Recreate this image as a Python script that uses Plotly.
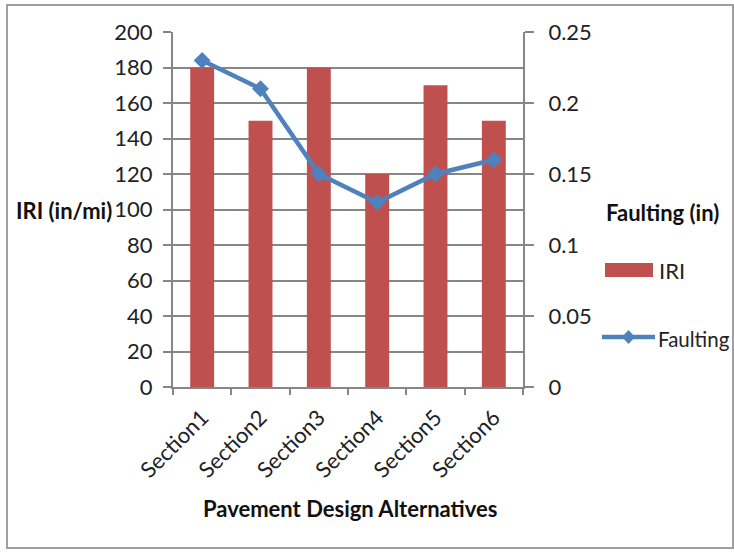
import plotly.graph_objects as go

categories = ["Section1", "Section2", "Section3", "Section4", "Section5", "Section6"]
iri = [180, 150, 180, 120, 170, 150]
faulting = [0.23, 0.21, 0.15, 0.13, 0.15, 0.16]
left_ticks = list(range(0, 201, 20))
right_ticks = [0, 0.05, 0.1, 0.15, 0.2, 0.25]
right_tick_labels = ["0", "0.05", "0.1", "0.15", "0.2", "0.25"]

RED = "#C0504D"
BLUE = "#4F81BD"
GRID = "#868686"
FONT = "Lato"

W, H = 734, 553
L, R, T, B = 173, 523, 32, 387

def px(x):
    return (x - L) / (R - L)

def py(y):
    return (B - y) / (B - T)

fig = go.Figure()
fig.add_trace(go.Bar(x=categories, y=iri, name="IRI", marker_color=RED,
                     marker_line_width=0, yaxis="y"))
fig.add_trace(go.Scatter(x=categories, y=faulting, name="Faulting", yaxis="y2",
                         mode="lines+markers",
                         line=dict(color=BLUE, width=4.5),
                         marker=dict(symbol="diamond", size=13, color=BLUE)))

fig.update_layout(
    width=W, height=H,
    margin=dict(l=L, r=W - R, t=T, b=H - B, pad=0),
    paper_bgcolor="white", plot_bgcolor="white",
    showlegend=False,
    bargap=0.59,
    font=dict(family=FONT, size=22, color="#222222"),
    xaxis=dict(type="category", showgrid=False, showline=True, linecolor=GRID,
               linewidth=2, ticks="outside", ticklen=6, tickcolor=GRID, tickwidth=2,
               tickson="boundaries", tickangle=-45, tickfont=dict(size=22),
               ticklabelstandoff=7),
    yaxis=dict(range=[0, 200], tickvals=left_ticks, showgrid=True, gridcolor=GRID,
               gridwidth=2, showline=True, linecolor=GRID, linewidth=2,
               ticks="outside", ticklen=8, tickcolor=GRID, tickwidth=2,
               zeroline=False, tickfont=dict(size=22), ticklabelstandoff=6),
    yaxis2=dict(range=[0, 0.25], tickvals=right_ticks, ticktext=right_tick_labels,
                overlaying="y", side="right", showgrid=False, showline=True,
                linecolor=GRID, linewidth=2, ticks="outside", ticklen=9,
                tickcolor=GRID, tickwidth=2, zeroline=False,
                tickfont=dict(size=22), ticklabelstandoff=10),
)

shapes = [
    # outer chart border
    dict(type="rect", xref="paper", yref="paper",
         x0=px(7), x1=px(733), y0=py(548), y1=py(5),
         line=dict(color="#A0A0A0", width=2), fillcolor="rgba(0,0,0,0)", layer="below"),
    # legend swatches
    dict(type="rect", xref="paper", yref="paper",
         x0=px(605), x1=px(653), y0=py(277), y1=py(263),
         fillcolor=RED, line=dict(width=0)),
    dict(type="line", xref="paper", yref="paper",
         x0=px(602), x1=px(655), y0=py(337), y1=py(337),
         line=dict(color=BLUE, width=4.5)),
    dict(type="path", xref="paper", yref="paper",
         path="M {a},{b} L {c},{d} L {a},{e} L {f},{d} Z".format(
             a=px(628.5), b=py(330), c=px(635), d=py(337), e=py(344), f=px(622)),
         fillcolor=BLUE, line=dict(width=0)),
]

annotations = [
    dict(text="<b>IRI (in/mi)</b>", xref="paper", yref="paper",
         x=px(14), y=py(210), xanchor="left", yanchor="middle", showarrow=False,
         font=dict(size=22, family=FONT, color="#111111")),
    dict(text="<b>Faulting (in)</b>", xref="paper", yref="paper",
         x=px(604), y=py(212), xanchor="left", yanchor="middle", showarrow=False,
         font=dict(size=22, family=FONT, color="#111111")),
    dict(text="<b>Pavement Design Alternatives</b>", xref="paper", yref="paper",
         x=px(350), y=py(508), xanchor="center", yanchor="middle", showarrow=False,
         font=dict(size=22, family=FONT, color="#111111")),
    dict(text="IRI", xref="paper", yref="paper",
         x=px(657), y=py(270), xanchor="left", yanchor="middle", showarrow=False,
         font=dict(size=22, family=FONT, color="#222222")),
    dict(text="Faulting", xref="paper", yref="paper",
         x=px(656), y=py(339), xanchor="left", yanchor="middle", showarrow=False,
         font=dict(size=20.5, family=FONT, color="#222222")),
]

fig.update_layout(shapes=shapes, annotations=annotations)
fig.write_html("out.html")
